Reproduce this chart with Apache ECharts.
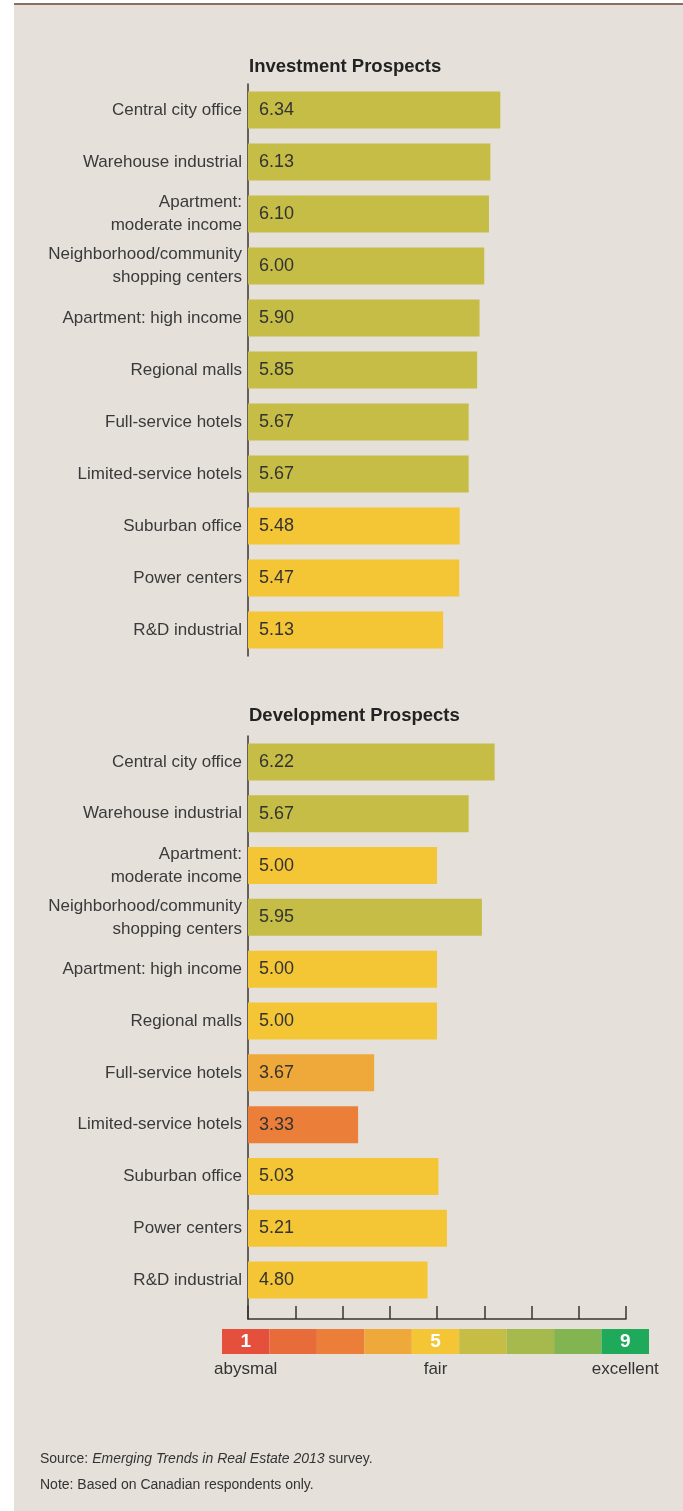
<!DOCTYPE html>
<html>
<head>
<meta charset="utf-8">
<script src="https://cdn.jsdelivr.net/npm/echarts@6/dist/echarts.min.js"></script>
<style>
  html, body { margin: 0; padding: 0; background: #fff; }
  .panel {
    position: absolute; left: 14px; top: 3px; right: 0; bottom: 0;
    background: #e5e0da; border-top: 2px solid #8c6d5f;
  }
  #chart { position: absolute; left: 0; top: 0; width: 683px; height: 1511px; }
</style>
</head>
<body>
<div class="panel"></div>
<div id="chart"></div>
<script>
// property types, same order in both panels
const categories = [
  'Central city office',
  'Warehouse industrial',
  'Apartment:\nmoderate income',
  'Neighborhood/community\nshopping centers',
  'Apartment: high income',
  'Regional malls',
  'Full-service hotels',
  'Limited-service hotels',
  'Suburban office',
  'Power centers',
  'R&D industrial'
]
const investment = [6.34, 6.13, 6.10, 6.00, 5.90, 5.85, 5.67, 5.67, 5.48, 5.47, 5.13]
const development = [6.22, 5.67, 5.00, 5.95, 5.00, 5.00, 3.67, 3.33, 5.03, 5.21, 4.80]

// 1..9 rating scale
const scaleSteps = ['1', '2', '3', '4', '5', '6', '7', '8', '9']
const scaleFill = [1, 1, 1, 1, 1, 1, 1, 1, 1]
const scaleMarks = ['1', '', '', '', '5', '', '', '', '9']
const scaleNotes = ['abysmal', '', '', '', 'fair', '', '', '', 'excellent']
const scaleColors = ['#e4503b', '#e86b3a', '#eb7f3a', '#eea93a', '#f4c636',
  '#c5bd45', '#a5b94c', '#83b452', '#1faa5b']

const font = "'Liberation Sans', Arial, sans-serif"
const axisColor = '#3a3530'

const chart = echarts.init(document.getElementById('chart'))

function barSeries(data, idx) {
  return {
    type: 'bar',
    xAxisIndex: idx,
    yAxisIndex: idx,
    data: data,
    barWidth: 37,
    itemStyle: {
      color: p => scaleColors[Math.round(p.value) - 1]
    },
    label: {
      show: true,
      position: 'insideLeft',
      distance: 11,
      color: '#333',
      fontFamily: font,
      fontSize: 18,
      formatter: p => p.value.toFixed(2)
    }
  }
}

function valueAxis(idx) {
  return {
    type: 'value', gridIndex: idx, min: 1, max: 9, interval: 1, startValue: 1,
    axisLine: { show: false }, axisTick: { show: false },
    axisLabel: { show: false }, splitLine: { show: false }
  }
}

function catAxis(idx) {
  return {
    type: 'category', gridIndex: idx, data: categories, inverse: true,
    axisLine: { show: true, lineStyle: { color: axisColor, width: 1.5 } },
    axisTick: { show: false },
    axisLabel: {
      color: '#3a3a3a', fontFamily: font, fontSize: 17, lineHeight: 23, margin: 6, align: 'right'
    }
  }
}

chart.setOption({
  animation: false,
  title: [
    {
      text: 'Investment Prospects', left: 249, top: 57, padding: 0,
      textStyle: { fontFamily: font, fontSize: 18.5, fontWeight: 'bold', color: '#222' }
    },
    {
      text: 'Development Prospects', left: 249, top: 706, padding: 0,
      textStyle: { fontFamily: font, fontSize: 18.5, fontWeight: 'bold', color: '#222' }
    },
    {
      text: '{a|Source: }{b|Emerging Trends in Real Estate 2013}{a| survey.}\n{a|Note: Based on Canadian respondents only.}',
      left: 40, top: 1446, padding: 0,
      textStyle: {
        rich: {
          a: { fontFamily: font, fontSize: 14, fontWeight: 'normal', color: '#333', lineHeight: 26 },
          b: { fontFamily: font, fontSize: 14, fontWeight: 'normal', color: '#333', lineHeight: 26, fontStyle: 'italic' }
        }
      }
    }
  ],
  grid: [
    { left: 248, right: 57, top: 84, height: 572, outerBoundsMode: 'none' },
    { left: 248, right: 57, top: 736, height: 570, outerBoundsMode: 'none' },
    // tick strip under the development panel
    { left: 248, right: 57, top: 1306, height: 13, outerBoundsMode: 'none' },
    // colour key
    { left: 222, right: 34, top: 1329, height: 25, outerBoundsMode: 'none' }
  ],
  xAxis: [
    valueAxis(0),
    valueAxis(1),
    {
      type: 'value', gridIndex: 2, min: 1, max: 9, interval: 1,
      axisLine: { show: true, lineStyle: { color: axisColor, width: 1.5 } },
      axisTick: { show: true, inside: true, length: 13, lineStyle: { color: axisColor, width: 1.5 } },
      axisLabel: { show: false }, splitLine: { show: false }
    },
    {
      type: 'category', gridIndex: 3, data: scaleSteps,
      axisLine: { show: false }, axisTick: { show: false },
      axisLabel: {
        interval: 0, margin: 7, color: '#333', fontFamily: font, fontSize: 17,
        formatter: (v, i) => scaleNotes[i]
      }
    }
  ],
  yAxis: [
    catAxis(0),
    catAxis(1),
    {
      type: 'value', gridIndex: 2,
      axisLine: { show: true, lineStyle: { color: axisColor, width: 1.5 } },
      axisTick: { show: false }, axisLabel: { show: false }, splitLine: { show: false }
    },
    { type: 'value', gridIndex: 3, min: 0, max: 1, show: false }
  ],
  series: [
    barSeries(investment, 0),
    barSeries(development, 1),
    {
      type: 'bar',
      xAxisIndex: 3,
      yAxisIndex: 3,
      data: scaleFill,
      barWidth: '100%',
      itemStyle: { color: p => scaleColors[p.dataIndex] },
      label: {
        show: true,
        position: 'inside',
        color: '#fff',
        fontFamily: font,
        fontSize: 19,
        fontWeight: 'bold',
        formatter: p => scaleMarks[p.dataIndex]
      }
    }
  ]
})
</script>
</body>
</html>
